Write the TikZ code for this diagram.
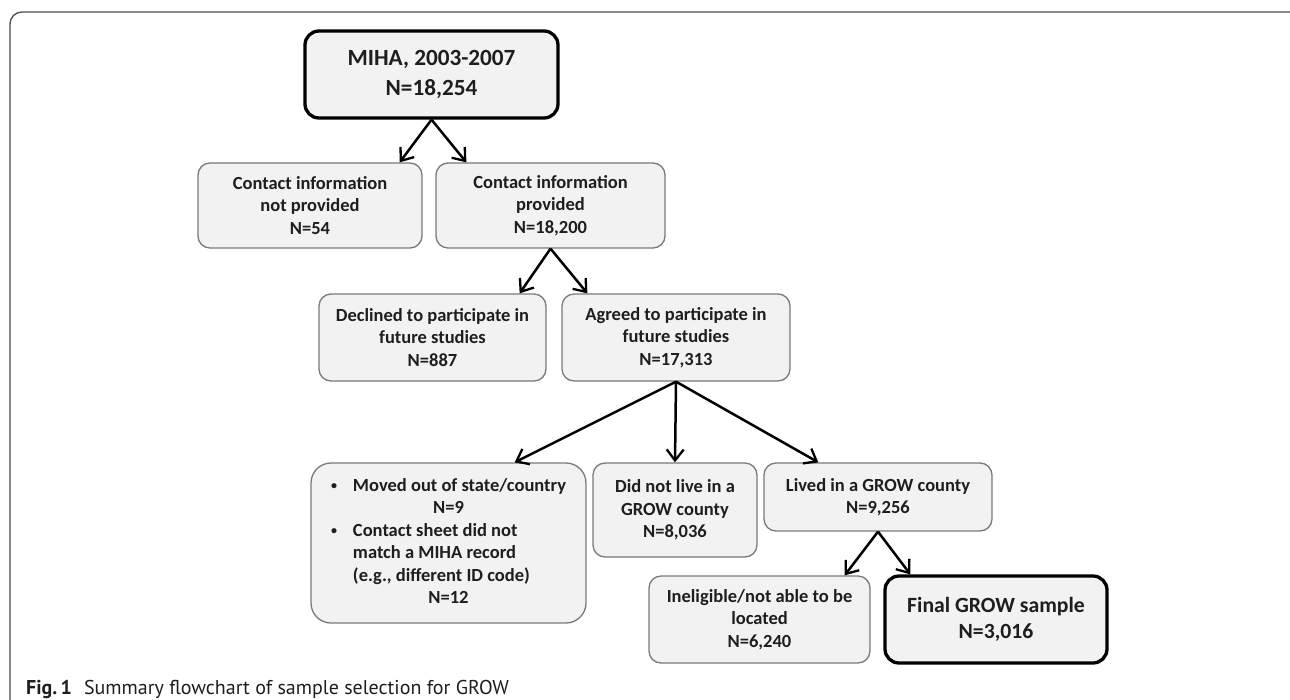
\documentclass[tikz,border=0pt]{standalone}
\usepackage{fontspec}
\setmainfont{Carlito}
\newfontfamily\capfont{PT Sans}
\usetikzlibrary{arrows.meta,calc}
\definecolor{boxfill}{HTML}{F2F2F2}
\definecolor{boxline}{HTML}{7A7A7A}
\definecolor{framecol}{HTML}{4D4D4D}
\definecolor{txt}{HTML}{1E1E1E}
\newcommand{\smbul}{\raisebox{1.5pt}{\fontsize{12}{12}\selectfont •}}
\begin{document}
\begin{tikzpicture}[x=1pt,y=-1pt,
  boxbase/.style={draw=boxline, line width=1.3pt, fill=boxfill, rounded corners=12pt,
    inner sep=0pt, text=txt, font=\fontsize{18.5}{22.4}\selectfont\bfseries},
  box/.style={boxbase, align=center},
  thickbox/.style={draw=black, line width=3.3pt, fill=boxfill, rounded corners=14pt,
    inner sep=0pt, text=txt, align=center},
  arr/.style={line width=2.5pt, -{Straight Barb[length=11pt,width=17pt,line width=2.3pt]}},
]
\useasboundingbox (0,0) rectangle (1290,699);
\begin{scope}
\clip (0,0) rectangle (1290,699);
\draw[framecol, line width=1.3pt, rounded corners=12pt] (1300,12) -- (10,12) -- (10,720);
\end{scope}

\node[thickbox, minimum width=253pt, minimum height=87pt,
  font=\fontsize{23.2}{30}\selectfont\bfseries] (miha) at (431.5,74.5) {MIHA, 2003-2007\\N=18,254};
\node[box, minimum width=224pt, minimum height=85pt] (cin) at (310,205.5)
  {Contact information\\not provided\\N=54};
\node[box, minimum width=229pt, minimum height=85pt] (cip) at (550.5,205.5)
  {Contact information\\provided\\N=18,200};
\node[box, minimum width=227pt, minimum height=87pt] (dec) at (432.5,337.5)
  {Declined to participate in\\future studies\\N=887};
\node[box, minimum width=228pt, minimum height=87pt] (agr) at (676,337.5)
  {Agreed to participate in\\future studies\\N=17,313};
\node[boxbase, rounded corners=20pt, minimum width=275pt, minimum height=160pt] (mov) at (448.5,543)
  {\raisebox{-2pt}{\begin{tabular}{@{}l@{\hspace{16pt}}l@{}}
   \smbul& Moved out of state/country\\
   \multicolumn{2}{c}{N=9}\\
   \smbul& Contact sheet did not\\
    & match a MIHA record\\
    & (e.g., different ID code)\\
   \multicolumn{2}{c}{N=12}
   \end{tabular}}};
\node[box, minimum width=164pt, minimum height=94pt] (dnl) at (675,510)
  {Did not live in a\\GROW county\\N=8,036};
\node[box, minimum width=228pt, minimum height=68pt] (liv) at (878,497)
  {Lived in a GROW county\\N=9,256};
\node[box, minimum width=221pt, minimum height=87pt] (inel) at (759.5,619.5)
  {Ineligible/not able to be\\located\\N=6,240};
\node[thickbox, minimum width=222pt, minimum height=87pt,
  font=\fontsize{21.7}{26}\selectfont\bfseries] (fin) at (996,619.5) {Final GROW sample\\N=3,016};

\draw[arr] (miha.south) -- ($(cin.north east)+(-23,0)$);
\draw[arr] (miha.south) -- ($(cip.north west)+(31,0)$);
\draw[arr] (cip.south) -- ($(dec.north east)+(-27,0)$);
\draw[arr] (cip.south) -- ($(agr.north west)+(26,0)$);
\draw[arr] (agr.south) -- ($(mov.north east)+(-72,0)$);
\draw[arr] (agr.south) -- (dnl.north);
\draw[arr] (agr.south) -- ($(liv.north west)+(55,0)$);
\draw[arr] (liv.south) -- ($(inel.north east)+(-26,0)$);
\draw[arr] (liv.south) -- ($(fin.north west)+(27,0)$);

\node[anchor=base west, inner sep=0pt, text=txt, font=\capfont\fontsize{20}{24}\selectfont] (cap) at (26,694)
  {\textbf{Fig.\,1}\hspace{0.6em}Summary flowchart of sample selection for GROW};
\end{tikzpicture}
\end{document}
